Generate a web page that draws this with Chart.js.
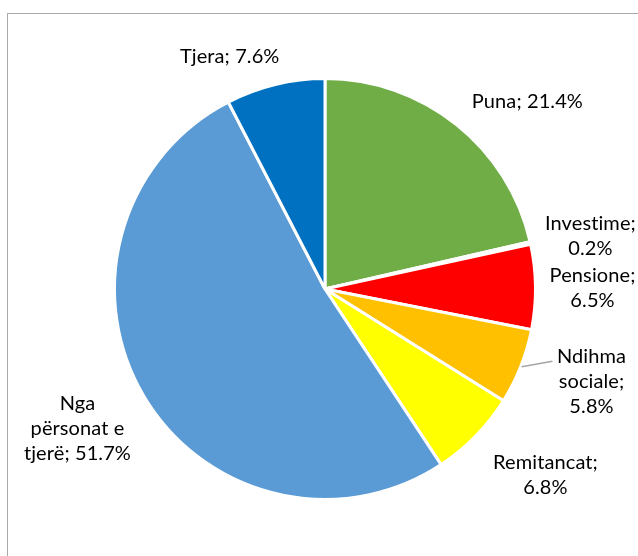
<!DOCTYPE html>
<html>
    <head>
        <meta charset="utf-8">
        <script src="https://cdn.jsdelivr.net/npm/chart.js@4.4.1/dist/chart.umd.min.js"></script>
        <style>
            body {
                margin: 0;
                overflow: hidden;
                background: #ffffff;
            }
            .frame {
                position: absolute;
                left: 7px;
                top: 13px;
                width: 700px;
                height: 600px;
                border: 1px solid #a9a9a9;
            }
            .holder {
                position: absolute;
                left: 0;
                top: 0;
                width: 638px;
                height: 556px;
            }
        </style>
    </head>

    <body>
        <div class="frame"></div>
        <div class="holder">
            <canvas id="pie" width="638" height="556"></canvas>
        </div>

        <script>
            // vlerat e grafikut
            const kategorite = ["Puna", "Investime", "Pensione", "Ndihma sociale", "Remitancat", "Nga përsonat e tjerë", "Tjera"];
            const perqindjet = [21.4, 0.2, 6.5, 5.8, 6.8, 51.7, 7.6];
            const ngjyrat = ["#70ad47", "#a5a5a5", "#ff0000", "#ffc000", "#ffff00", "#5b9bd5", "#0070c0"];

            // si ndahen etiketat ne rreshta
            const rreshtat = [
                ["Puna; 21.4%"],
                ["Investime;", "0.2%"],
                ["Pensione;", "6.5%"],
                ["Ndihma", "sociale;", "5.8%"],
                ["Remitancat;", "6.8%"],
                ["Nga", "përsonat e", "tjerë; 51.7%"],
                ["Tjera; 7.6%"]
            ];
            // zhvendosja e etiketes: [kendi ne grade, largesia / rreze]
            const vendet = [[8.7, 1.31], [1.3, 1.286], [0.3, 1.271], [-2.5, 1.34], [-4.1, 1.371], [1.0, 1.35], [-8.6, 1.194]];

            const etiketat = {
                id: "etiketat",
                afterDatasetsDraw(chart) {
                    const c = chart.ctx;
                    const arcs = chart.getDatasetMeta(0).data;
                    c.save();
                    c.font = "20px Lato";
                    c.letterSpacing = "0.1px";
                    c.fillStyle = "#000000";
                    c.textAlign = "center";
                    c.textBaseline = "middle";
                    const lh = 25;
                    arcs.forEach(function(arc, i) {
                        const mes = (arc.startAngle + arc.endAngle) / 2;
                        const r = arc.outerRadius;
                        const a = mes + vendet[i][0] * Math.PI / 180;
                        const x = arc.x + Math.cos(a) * r * vendet[i][1];
                        const y = arc.y + Math.sin(a) * r * vendet[i][1];
                        const lines = rreshtat[i];
                        const y0 = y - (lines.length - 1) * lh / 2;
                        lines.forEach(function(t, j) {
                            c.fillText(t, x, y0 + j * lh);
                        });
                        if (i === 3) {
                            // vija drejt etiketes
                            const a2 = mes - 4 * Math.PI / 180;
                            c.strokeStyle = "#a6a6a6";
                            c.lineWidth = 1.5;
                            c.beginPath();
                            c.moveTo(arc.x + Math.cos(mes) * (r + 1), arc.y + Math.sin(mes) * (r + 1));
                            c.lineTo(arc.x + Math.cos(a2) * r * 1.134, arc.y + Math.sin(a2) * r * 1.134);
                            c.stroke();
                        }
                    });
                    c.restore();
                }
            };

            const ctx = document.getElementById("pie").getContext("2d");
            let grafiku = new Chart(ctx, {
                type: "pie",
                data: {
                    labels: kategorite,
                    datasets: [{
                        data: perqindjet,
                        backgroundColor: ngjyrat,
                        borderColor: "#ffffff",
                        borderWidth: 3,
                        hoverOffset: 0
                    }]
                },
                options: {
                    responsive: false,
                    animation: false,
                    layout: { padding: { top: 77, bottom: 55, left: 113, right: 101 } },
                    plugins: {
                        legend: { display: false },
                        tooltip: { enabled: false }
                    }
                },
                plugins: [etiketat]
            });
        </script>
    </body>
</html>
